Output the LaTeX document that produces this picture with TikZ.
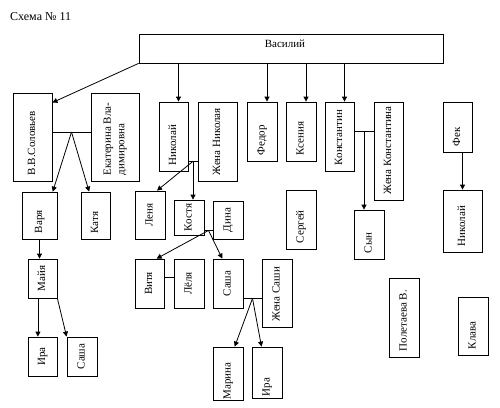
\documentclass[tikz,border=0pt]{standalone}
\usepackage{fontspec}
\setmainfont{Liberation Serif}
\usetikzlibrary{fit,arrows.meta}
\newcommand{\labfont}{\fontsize{11}{13.5}\selectfont}
\newcommand{\vtext}[1]{\rotatebox{90}{\begin{tabular}{@{}l@{}}#1\end{tabular}}}

\begin{document}
\begin{tikzpicture}[x=1pt,y=-1pt,
	person/.style={draw, line width=0.8pt, inner sep=0pt},
	vlab/.style={anchor=south, inner sep=0pt, yshift=6pt, font=\labfont},
	clab/.style={anchor=center, inner sep=0pt, font=\labfont},
	tie/.style={line width=0.8pt},
	arr/.style={tie, -{Triangle[length=5pt,width=5pt]}}
	]
	\useasboundingbox (0,0) rectangle (500,407);
	
	\node[anchor=west, inner sep=0pt, font=\fontsize{12}{14}\selectfont] (title) at (10,17) {Схема № 11};
	
	\node[person, fit={(139,34) (443,63)},
	label={[anchor=north, inner sep=0pt, xshift=-6pt, yshift=-6pt, font=\labfont]north:Василий}] (vasiliy) {};
	
	% first generation
	\node[person, fit={(13,93) (52,181)}, label={[vlab]south:\vtext{В.В.Соловьев}}] (solov) {};
	\node[person, fit={(91,93) (139,181)}, label={[vlab]south:\vtext{Екатерина Вла-\\димировна}}] (ekat) {};
	\node[person, fit={(159,102) (188,171)}, label={[vlab]south:\vtext{Николай}}] (nik) {};
	\node[person, fit={(198,102) (237,181)}, label={[vlab]south:\vtext{Жена Николая}}] (zhnik) {};
	\node[person, fit={(247,102) (277,161)}, label={[vlab]south:\vtext{Федор}}] (fedor) {};
	\node[person, fit={(286,102) (316,161)}, label={[vlab]south:\vtext{Ксения}}] (ksenia) {};
	\node[person, fit={(325,102) (354,171)}, label={[vlab]south:\vtext{Константин}}] (konst) {};
	\node[person, fit={(374,102) (403,200)}, label={[vlab]south:\vtext{Жена Константина}}] (zhkonst) {};
	\node[person, fit={(443,102) (472,152)}, label={[vlab]south:\vtext{Фек}}] (fek) {};
	
	% second generation
	\node[person, fit={(22,192) (57,239)}, label={[vlab]south:\vtext{Варя}}] (varya) {};
	\node[person, fit={(81,192) (110,239)}, label={[vlab]south:\vtext{Катя}}] (katya) {};
	\node[person, fit={(135,191) (165,239)}, label={[clab]center:\vtext{Леня}}] (lenya) {};
	\node[person, fit={(174,200) (204,235)}, label={[clab]center:\vtext{Костя}}] (kostya) {};
	\node[person, fit={(213,201) (243,239)}, label={[clab]center:\vtext{Дина}}] (dina) {};
	\node[person, fit={(286,190) (316,249)}, label={[vlab]south:\vtext{Сергей}}] (sergei) {};
	\node[person, fit={(354,210) (384,259)}, label={[vlab]south:\vtext{Сын}}] (syn) {};
	\node[person, fit={(443,190) (482,252)}, label={[vlab]south:\vtext{Николай}}] (nik2) {};
	
	% third generation
	\node[person, fit={(28,259) (57,298)}, label={[clab]center:\vtext{Майя}}] (maya) {};
	\node[person, fit={(135,259) (164,308)}, label={[clab]center:\vtext{Витя}}] (vitya) {};
	\node[person, fit={(174,259) (204,308)}, label={[clab]center:\vtext{Лёля}}] (lyolya) {};
	\node[person, fit={(213,259) (243,308)}, label={[clab]center:\vtext{Саша}}] (sasha) {};
	\node[person, fit={(262,259) (292,327)}, label={[vlab]south:\vtext{Жена Саши}}] (zhsasha) {};
	\node[person, fit={(389,278) (419,357)}, label={[vlab]south:\vtext{Полетаева В.}}] (polet) {};
	\node[person, fit={(458,297) (488,355)}, label={[vlab]south:\vtext{Клава}}] (klava) {};
	
	% fourth generation
	\node[person, fit={(28,337) (57,376)}, label={[clab]center:\vtext{Ира}}] (ira) {};
	\node[person, fit={(67,337) (97,376)}, label={[clab]center:\vtext{Саша}}] (sasha2) {};
	\node[person, fit={(213,347) (243,400)}, label={[vlab, yshift=-5pt]south:\vtext{Марина}}] (marina) {};
	\node[person, fit={(252,347) (282,398)}, label={[vlab, yshift=-4pt]south:\vtext{Ира}}] (ira2) {};
	
	% children of Василий
	\coordinate (nikin) at ([xshift=5pt]nik.north);
	\coordinate (fedorin) at ([xshift=5pt]fedor.north);
	\coordinate (kseniain) at ([xshift=5pt]ksenia.north);
	\coordinate (konstin) at ([xshift=5pt]konst.north);
	\draw[arr] (vasiliy.south west) -- (solov.60);
	\draw[arr] (vasiliy.south -| nikin) -- (nikin);
	\draw[arr] (vasiliy.south -| fedorin) -- (fedorin);
	\draw[arr] (vasiliy.south -| kseniain) -- (kseniain);
	\draw[arr] (vasiliy.south -| konstin) -- (konstin);
	
	% couples and their children
	\draw[tie] (solov.14) -- (solov.14 -| ekat.west) coordinate[midway] (sj);
	\draw[arr] (sj) -- (varya.61);
	\draw[arr] (sj) -- (katya.105);
	
	\draw[tie] (nik.301) -- (nik.301 -| zhnik.west) coordinate[midway] (nj);
	\draw[arr] (nj) -- (lenya.74);
	\draw[arr] (nj) -- (nj |- kostya.north);
	
	\draw[tie] (kostya.320) -- (kostya.320 -| dina.west) coordinate[midway] (kj);
	\draw[arr] (kj) -- (vitya.74);
	\draw[arr] (kj) -- (sasha.103);
	
	\draw[tie] (vitya.21) -- (vitya.21 -| lyolya.west);
	
	\draw[tie] (sasha.316) -- (sasha.316 -| zhsasha.west) coordinate[midway] (saj);
	\draw[arr] (saj) -- (marina.76);
	\draw[arr] (saj) -- (ira2.102);
	
	\draw[tie] (konst.19) -- (konst.19 -| zhkonst.west) coordinate[midway] (koj);
	\draw[arr] (koj) -- (koj |- syn.north);
	
	\draw[arr] (nik2.north |- fek.south) -- (nik2.north);
	
	\draw[arr] (varya.south) -- (varya.south |- maya.north);
	\draw[arr] (maya.257) -- (maya.257 |- ira.north);
	\draw[arr] (maya.south east) -- (sasha2.north west);
\end{tikzpicture}
\end{document}
